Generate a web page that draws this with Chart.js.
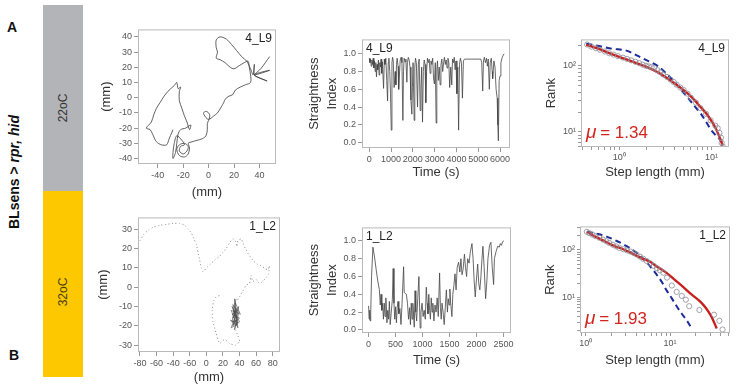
<!DOCTYPE html>
<html>
<head>
<meta charset="utf-8">
<script src="https://cdn.jsdelivr.net/npm/chart.js@4.4.1/dist/chart.umd.min.js"></script>
<style>
  body { margin: 0; background: #fff; width: 738px; height: 388px; position: relative; overflow: hidden;
         font-family: "Liberation Sans", Arial, sans-serif; }
  canvas { position: absolute; }
  .bar { position: absolute; left: 43px; width: 40px; }
  .rot { position: absolute; transform: translate(-50%, -50%) rotate(-90deg); white-space: nowrap; }
  .lett { position: absolute; font-weight: bold; font-size: 14px; color: #111; }
</style>
</head>
<body>
<div class="lett" style="left:7px;top:19px">A</div>
<div class="lett" style="left:9px;top:347px">B</div>
<div class="rot" style="left:14px;top:172px;font-weight:bold;font-size:14px;color:#111">BLsens &gt; <i>rpr, hid</i></div>
<div class="bar" style="top:5px;height:186px;background:#b3b4b7"></div>
<div class="bar" style="top:191px;height:186px;background:#fdc800"></div>
<div class="rot" style="left:63px;top:108px;font-size:12px;color:#333">22oC</div>
<div class="rot" style="left:63px;top:292px;font-size:12px;color:#4a3f10">32oC</div>

<canvas id="a1" width="183" height="178" style="left:99px;top:22px"></canvas>
<canvas id="b1" width="190" height="175" style="left:96px;top:210px"></canvas>
<canvas id="a2" width="212" height="148" style="left:306px;top:32px"></canvas>
<canvas id="b2" width="213" height="148" style="left:306px;top:220px"></canvas>
<canvas id="a3" width="193" height="148" style="left:544px;top:32px"></canvas>
<canvas id="b3" width="195" height="149" style="left:543px;top:219px"></canvas>

<script>
// ---- trajectory, larva 4_L9 (22oC), mm
const a1X = [48,41,36,48,36,46,40,36,36,35,
  33,30,26,22,18,14,9,6,6,7,6,9,13,17,20,24,28,31,32,33,33,
  29,25,21,19,16,13,12,10,7,4,1,
  -1,-3,-4,-2,0,1,0,-1,-1,-2,-5,-9,-13,-16,
  -15,-16,-19,-23,-25,-23,-19,-16,-17,-20,-23,-22,-19,
  -21,-25,-27,-28,-28,-26,-25,-24,-22,-18,-14,-15,-17,-19,-21,-23,-23,-22,-24,-25,-27,-31,-35,-38,-41,-43,-45,-49,-46,-44,-41,-37,-33,-31,-29,-28];
const a1Y = [27,19,15,18,15,11,13,15,22,15,
  19,24,27,31,35,38.5,40,38,33,30,26,25,23,20,19,21,23,24,20,15,10,
  8.5,7,5,2,1,-1,-3,-6,-10,-12,-14,
  -14,-12,-10,-9,-10,-12,-15,-17,-21,-25,-27,-28,-29,-30,
  -33,-37,-39,-38,-34,-31,-30,-32,-35,-37,-35,-32,-31,
  -28,-25,-30,-36,-40,-36,-30,-24,-21,-20,-18,-21,-16,-12,-7,-2,4,7,6,10,8,5,1,-3,-7,-11,-16,-20,-21,-24,-29,-31,-31,-27,-23,-21];

// ---- trajectory, larva 1_L2 (32oC), mm
const b1X = [-80,-76,-70,-64,-56,-48,-40,-32,-26,-22,-18,-15,-12,-10,-8,-6,-4,0,5,10,16,20,24,28,32,35,37,38,42,44,47,51,56,61,66,70,74,76,75,72,68,64,60,56,54,52,48,44,40,37];
const b1Y = [24,27,29.5,31,32,32.5,33,33,32,30,28,25,22,18,14,10,8,10,12,14,16,18,20,23,25,24,21,24,25,23,20,17,14,12,11,10,9,11,7,5,3,2,4,3,6,2,1,-2,-5,-7];
const b1ClusterX = [36,33,38,31,40,34,29,36,39,32,35,30,38,33,41,35,31,37,34,39,32,36,30,38,35,33,40,31,36,34,37,32,35];
const b1ClusterY = [-6,-10,-12,-14,-16,-18,-17,-20,-13,-9,-15,-21,-19,-12,-14,-8,-18,-17,-22,-10,-16,-13,-12,-21,-11,-19,-18,-10,-16,-6,-14,-20,-17];
const b1TailX = [35,38,40,35,28,22,16,12,8,7,9,12,18];
const b1TailY = [-22,-25,-28,-30,-29,-27,-29,-24,-18,-12,-7,-5,-4];
const b1XTickLabels = ['-80','-60','-40','-60','0','20','40','60','80'];

// ---- straightness index over time
const a2Time = [0,30,60,90,120,150,180,210,240,270,300,330,360,390,420,450,480,510,540,570,
  600,656,690,720,760,800,840,870,900,940,975,1008,1040,1070,1100,1140,1190,1221,1250,1280,
  1320,1350,1380,1420,1460,1500,1542,1570,1600,1640,1680,1725,1750,1790,1830,1870,1910,1954,1980,2010,
  2061,2090,2120,2160,2214,2250,2290,2336,2370,2405,2443,2480,2520,2560,2595,2630,2670,2710,2750,2790,
  2830,2870,2910,2950,2990,3030,3068,3100,3130,3170,3210,3252,3290,3330,3370,3410,3450,3490,3530,3570,
  3610,3650,3690,3740,3785,3820,3860,3900,3940,3980,4020,4060,4099,4140,4180,4230,4275,4320,4370,5120,
  5160,5206,5240,5280,5330,5380,5420,5460,5510,5550,5600,5640,5664,5720,5770,5820,5870,5900,5924,5960,
  6000,6040,6100,6183];
const a2Index = [0.95,0.90,0.94,0.86,0.93,0.88,0.95,0.84,0.92,0.80,0.90,0.74,0.88,0.82,0.93,0.76,0.90,0.85,0.94,0.78,
  0.91,0.61,0.94,0.88,0.95,0.70,0.47,0.90,0.95,0.80,0.55,0.14,0.90,0.96,0.92,0.62,0.80,0.65,0.88,0.95,
  0.86,0.60,0.75,0.93,0.96,0.90,0.25,0.80,0.95,0.91,0.94,0.68,0.90,0.96,0.93,0.85,0.48,0.32,0.62,0.90,
  0.25,0.85,0.95,0.90,0.40,0.88,0.94,0.36,0.60,0.85,0.23,0.80,0.93,0.88,0.45,0.80,0.95,0.90,0.94,0.78,
  0.92,0.88,0.95,0.72,0.66,0.90,0.22,0.82,0.92,0.70,0.85,0.65,0.88,0.94,0.80,0.90,0.96,0.88,0.93,0.84,
  0.95,0.90,0.62,0.85,0.65,0.94,0.90,0.96,0.82,0.92,0.55,0.85,0.14,0.88,0.95,0.90,0.50,0.92,0.94,0.94,
  0.90,0.58,0.92,0.96,0.90,0.95,0.86,0.94,0.60,0.90,0.95,0.80,0.72,0.92,0.85,0.60,0.50,0.20,0.02,0.70,
  0.75,0.90,0.96,1.00];

const b2Time = [0,10,20,30,40,55,80,110,140,170,200,216,230,245,260,275,290,305,320,340,
  355,370,385,400,420,440,455,470,485,500,515,530,545,560,580,600,620,648,660,700,
  720,740,760,775,790,805,820,846,860,875,890,910,932,945,955,970,990,1010,1030,1050,
  1068,1085,1100,1115,1130,1145,1160,1175,1190,1210,1230,1250,1270,1290,1315,1330,1345,1360,1380,1400,
  1420,1440,1460,1475,1490,1505,1520,1543,1560,1580,1600,1620,1640,1667,1690,1710,1730,1750,1775,1795,
  1815,1835,1860,1885,1914,1935,1955,1975,1995,2020,2040,2060,2080,2100,2117,2140,2167,2190,2210,2240,
  2265,2290,2315,2330,2360,2390,2420,2440,2460,2480,2505];
const b2Index = [0.27,0.12,0.22,0.10,0.20,0.60,0.93,0.82,0.68,0.55,0.45,0.28,0.40,0.22,0.30,0.12,0.30,0.15,0.36,0.08,
  0.22,0.12,0.32,0.06,0.20,0.34,0.69,0.30,0.12,0.26,0.08,0.25,0.32,0.18,0.24,0.06,0.30,0.71,0.42,0.40,
  0.30,0.12,0.25,0.06,0.30,0.12,0.30,0.03,0.44,0.20,0.10,0.35,0.60,0.25,0.02,0.20,0.30,0.15,0.22,0.12,
  0.48,0.30,0.18,0.40,0.22,0.12,0.36,0.20,0.30,0.10,0.28,0.20,0.36,0.15,0.64,0.25,0.12,0.30,0.20,0.06,
  0.25,0.45,0.20,0.35,0.28,0.46,0.30,0.15,0.40,0.50,0.63,0.45,0.70,0.76,0.65,0.80,0.62,0.68,0.85,0.70,
  0.60,0.80,0.75,0.88,0.97,0.80,0.55,0.37,0.55,0.74,0.52,0.45,0.60,0.80,0.94,0.70,0.35,0.55,0.80,0.95,
  0.985,0.70,0.51,0.80,0.88,0.94,0.93,0.97,0.95,0.99,1.00];

// ---- rank / step length (log-log), data + truncated power law (red) + exponential (blue)
const a3Step = [0.45,0.5,0.56,0.62,0.7,0.78,0.87,0.97,1.1,1.22,1.35,1.5,1.65,1.8,1.95,2.1,2.25,2.4,2.6,2.8,
  3.0,3.3,3.6,3.9,4.2,4.6,5.0,5.5,6.0,6.8,7.6,8.75,9.8,11.0,11.7,12.2,12.7,12.9,13.3];
const a3Rank = [210,195,185,175,165,155,148,140,133,127,121,115,110,104,100,98,96,93,86,80,
  74,68,62,57,52,47,43,38,33,27.7,23,18.8,15,12.5,11.4,9.7,8.2,6.9,6.0];
const a3PowX = [0.44,0.6,0.83,1.2,1.89,2.7,3.67,4.6,5.56,6.6,7.7,8.8,9.9,10.8,11.7,12.4,12.9,13.2];
const a3PowY = [208,180,150,125,99,78,59,47,38,30,23.5,19,15,12.3,9.7,8,6.9,6.2];
const a3ExpX = [0.44,0.6,0.83,1.2,1.6,2.1,2.63,3.2,3.98,4.7,5.56,6.5,7.7,8.8,9.9,11.2,12.7,13.4];
const a3ExpY = [215,200,182,170,141,117,99,78,57,43,33,25,18.8,14,10.8,8.8,7.3,6.1];

const b3Step = [1.03,1.1,1.2,1.3,1.45,1.6,1.75,1.9,2.1,2.3,2.5,2.8,3.1,3.4,3.7,4.0,4.4,4.8,5.3,5.8,
  6.4,7.0,7.6,8.3,9.2,10.5,12,13.8,15.4,16.9,22.3,33.3,38.5,42];
const b3Rank = [240,225,210,195,180,165,152,140,128,118,110,103,97,92,86,80,72,65,58,52,
  46,41,37,33,26,17.7,13,10.7,8.9,6.5,5.4,4.3,3.2,2.1];
const b3PowX = [1.03,1.3,1.7,2.2,2.79,3.5,4.5,5.8,7.2,9.1,11.5,14.4,18,22.7,26.5,29.8,32.5,35.8];
const b3PowY = [240,190,150,120,103,85,68,56,43,32.7,23,16.4,11.5,8.2,6,4.4,3.3,2.2];
const b3ExpX = [1.03,1.4,1.77,2.4,3.06,3.9,4.8,5.8,6.95,8,9.1,10.5,12,13.8,15.8,18.1];
const b3ExpY = [240,215,190,150,120,90,65,45,30,21,14,9.5,6.5,4.5,3.27,2.2];

Chart.defaults.font.family = "'Liberation Sans', Arial, sans-serif";
Chart.defaults.animation = false;

const pts = (xs, ys) => xs.map((x, i) => ({x: x, y: ys[i]}));
const tickFont = {size: 9};
const titleFont = {size: 13};
const SUP = {'-1': '⁻¹', '0': '⁰', '1': '¹', '2': '²', '3': '³'};

// frame round the plot area, panel id and mu text
const panelDecor = {
  id: 'panelDecor',
  afterDraw(chart, args, opts) {
    const {ctx, chartArea: a} = chart;
    ctx.save();
    ctx.strokeStyle = '#b9b9b9';
    ctx.lineWidth = 1;
    ctx.strokeRect(a.left + 0.5, a.top + 0.5, a.right - a.left - 1, a.bottom - a.top - 1);
    if (opts.label) {
      ctx.font = "12px 'Liberation Sans', Arial, sans-serif";
      ctx.fillStyle = '#222';
      ctx.textBaseline = 'top';
      if (opts.labelLeft) {
        ctx.textAlign = 'left';
        ctx.fillText(opts.label, a.left + 4, a.top + 3);
      } else {
        ctx.textAlign = 'right';
        ctx.fillText(opts.label, a.right - 4, a.top + 3);
      }
    }
    if (opts.mu) {
      ctx.fillStyle = '#d1261f';
      ctx.textAlign = 'left';
      ctx.textBaseline = 'alphabetic';
      const x = a.left + 5, y = a.bottom - 9;
      ctx.font = "italic 19px 'Liberation Sans', Arial, sans-serif";
      ctx.fillText('μ', x, y);
      const w = ctx.measureText('μ').width;
      ctx.font = "17px 'Liberation Sans', Arial, sans-serif";
      ctx.fillText(' = ' + opts.mu, x + w - 1, y);
    }
    ctx.restore();
  }
};
Chart.register(panelDecor);

function linScale(min, max, step, fit, title, isX, fmt) {
  return {
    type: 'linear', min: min, max: max,
    afterBuildTicks: s => {
      const out = [];
      for (let v = Math.ceil(min / step) * step; v <= max + 1e-9; v += step) out.push({value: +v.toFixed(6)});
      s.ticks = out;
    },
    ticks: {autoSkip: false, maxRotation: 0, font: tickFont, color: '#555', padding: 2,
            callback: fmt || (v => v)},
    grid: {drawOnChartArea: false, tickLength: 4, color: '#999'},
    border: {display: false},
    title: {display: true, text: title, font: titleFont, color: '#333', padding: 0},
    afterFit: s => { if (isX) s.height = fit; else s.width = fit; }
  };
}

function logTicks(scale) {
  const out = [];
  const e0 = Math.floor(Math.log10(scale.min)), e1 = Math.ceil(Math.log10(scale.max));
  for (let e = e0; e <= e1; e++) {
    for (let m = 1; m < 10; m++) {
      const v = m * Math.pow(10, e);
      if (v >= scale.min && v <= scale.max) out.push({value: v});
    }
  }
  scale.ticks = out;
}

function logLabel(v) {
  const l = Math.log10(v), e = Math.round(l);
  return Math.abs(l - e) < 1e-6 ? '10' + SUP[String(e)] : '';
}

function logScale(min, max, fit, title, isX) {
  return {
    type: 'logarithmic', min: min, max: max,
    afterBuildTicks: logTicks,
    ticks: {autoSkip: false, maxRotation: 0, font: tickFont, color: '#555', padding: 2, callback: logLabel},
    grid: {drawOnChartArea: false, tickLength: 3, color: '#999'},
    border: {display: false},
    title: {display: true, text: title, font: titleFont, color: '#333', padding: 0},
    afterFit: s => { if (isX) s.height = fit; else s.width = fit; }
  };
}

function makeChart(id, datasets, x, y, pad, decor) {
  return new Chart(document.getElementById(id), {
    type: 'scatter',
    data: {datasets: datasets},
    options: {
      responsive: false,
      maintainAspectRatio: false,
      layout: {padding: pad},
      scales: {x: x, y: y},
      plugins: {legend: {display: false}, tooltip: {enabled: false}, panelDecor: decor}
    }
  });
}

function path(data, color, width, dash, tension) {
  return {data: data, showLine: true, pointRadius: 0, borderColor: color, borderWidth: width,
          borderDash: dash || [], tension: tension || 0};
}

// A1 trajectory
makeChart('a1',
  [path(pts(a1X, a1Y), '#3a3a3a', 0.8, null, 0.3)],
  linScale(-55.5, 53, 20, 36, '(mm)', true),
  linScale(-43.6, 44.9, 10, 39, '(mm)', false),
  {top: 2, right: 6, left: 0, bottom: 0},
  {label: '4_L9'});

// B1 trajectory
makeChart('b1',
  [path(pts(b1X, b1Y), '#8d8d8d', 1, [1, 2.5], 0.2),
   path(pts(b1ClusterX, b1ClusterY), '#4a4a4a', 0.6, null, 0),
   path(pts(b1TailX, b1TailY), '#8d8d8d', 1, [1, 2.5], 0.2)],
  linScale(-82.4, 88.8, 20, 33, '(mm)', true, (v, i) => b1XTickLabels[i]),
  linScale(-33.5, 36.1, 10, 42, '(mm)', false),
  {top: 2, right: 6, left: 0, bottom: 0},
  {label: '1_L2'});

// A2 straightness
const siTitle = {display: true, text: ['Straightness', 'Index'], font: {size: 13, lineHeight: 1.35}, color: '#333', padding: 0};
const a2y = linScale(-0.061, 1.162, 0.2, 56, '', false, v => v.toFixed(1));
a2y.title = siTitle;
makeChart('a2',
  [path(pts(a2Time, a2Index), '#444', 0.8)],
  linScale(-334, 6458, 1000, 32, 'Time (s)', true),
  a2y,
  {top: 2, right: 8, left: 0, bottom: 0},
  {label: '4_L9', labelLeft: true});

// B2 straightness
const b2y = linScale(-0.035, 1.152, 0.2, 56, '', false, v => v.toFixed(1));
b2y.title = siTitle;
makeChart('b2',
  [path(pts(b2Time, b2Index), '#444', 0.8)],
  linScale(-122, 2637, 500, 35, 'Time (s)', true),
  b2y,
  {top: 2, right: 8, left: 0, bottom: 0},
  {label: '1_L2', labelLeft: true});

// rank plots
function rankSets(sx, sr, px, py, ex, ey) {
  return [
    {data: pts(sx, sr), pointRadius: 2.6, pointBorderWidth: 0.8, pointBorderColor: '#8b8b98',
     pointBackgroundColor: 'rgba(0,0,0,0)', showLine: false},
    {data: pts(px, py), showLine: true, pointRadius: 0, borderColor: '#c8201e', borderWidth: 2.4,
     cubicInterpolationMode: 'monotone'},
    {data: pts(ex, ey), showLine: true, pointRadius: 0, borderColor: '#1d2a9a', borderWidth: 2,
     borderDash: [6, 4], cubicInterpolationMode: 'monotone'}
  ];
}

makeChart('a3',
  rankSets(a3Step, a3Rank, a3PowX, a3PowY, a3ExpX, a3ExpY),
  logScale(0.386, 15.5, 33, 'Step length (mm)', true),
  logScale(5.93, 251, 37, 'Rank', false),
  {top: 2, right: 8, left: 0, bottom: 0},
  {label: '4_L9', mu: '1.34'});

makeChart('b3',
  rankSets(b3Step, b3Rank, b3PowX, b3PowY, b3ExpX, b3ExpY),
  logScale(0.855, 51.5, 35, 'Step length (mm)', true),
  logScale(1.77, 312, 37, 'Rank', false),
  {top: 2, right: 8, left: 0, bottom: 0},
  {label: '1_L2', mu: '1.93'});
</script>
</body>
</html>
